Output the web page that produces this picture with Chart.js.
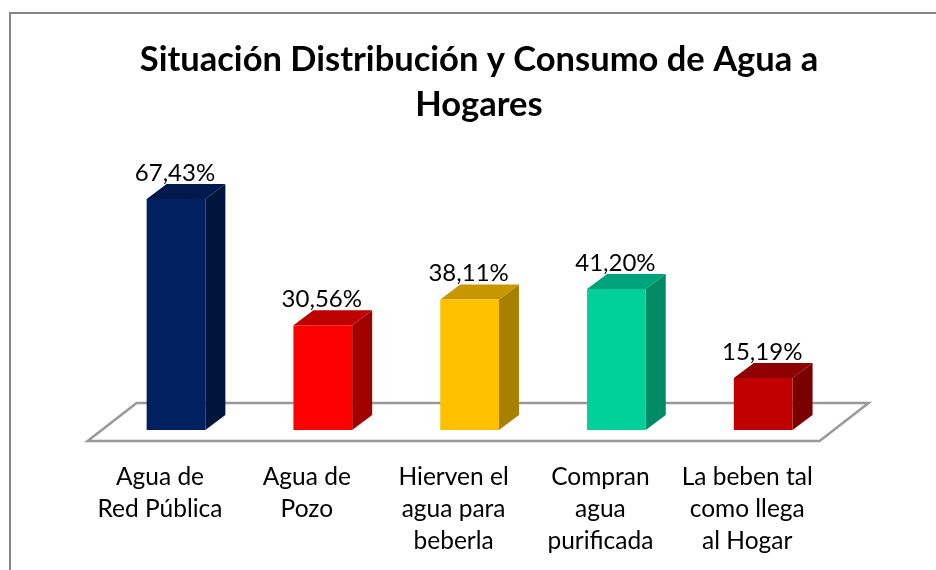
<!DOCTYPE html>
<html>
<head>
<meta charset="utf-8">
<script src="https://cdn.jsdelivr.net/npm/chart.js@4"></script>
<style>
    html, body { margin: 0; padding: 0; background: #fff; }
    canvas { display: block; }
</style>
</head>
<body>
<canvas id="aguaChart" width="936" height="570"></canvas>
<script>
const chartTitle = ['Situación Distribución y Consumo de Agua a', 'Hogares'];
const categories = [
    ['Agua de', 'Red Pública'],
    ['Agua de', 'Pozo'],
    ['Hierven el', 'agua para', 'beberla'],
    ['Compran', 'agua', 'purificada'],
    ['La beben tal', 'como llega', 'al Hogar']
];
const values = [67.43, 30.56, 38.11, 41.20, 15.19];

const frontColors = ['#002060', '#FF0000', '#FFC000', '#00D09A', '#C00000'];
const topColors = ['#001A4D', '#BF0000', '#C89600', '#00A37A', '#8F0000'];
const sideColors = ['#00143C', '#A00000', '#A88000', '#008A66', '#7A0000'];

const FONT = 'Lato, Carlito, Calibri, sans-serif';
const DEPTH_X = 20;
const DEPTH_Y = 15;

function polygon(ctx, points, color) {
    ctx.beginPath();
    points.forEach((p, i) => i ? ctx.lineTo(p[0], p[1]) : ctx.moveTo(p[0], p[1]));
    ctx.closePath();
    ctx.fillStyle = color;
    ctx.fill();
}

// Frame, floor and the side/top faces of the bars (Chart.js draws the front)
const bars3d = {
    id: 'bars3d',
    beforeDraw(chart) {
        const ctx = chart.ctx;
        ctx.save();
        ctx.strokeStyle = '#868686';
        ctx.lineWidth = 2;
        ctx.beginPath();
        ctx.moveTo(10, 575);
        ctx.lineTo(10, 13);
        ctx.lineTo(940, 13);
        ctx.stroke();
        ctx.restore();
    },
    beforeDatasetsDraw(chart) {
        const ctx = chart.ctx;
        const area = chart.chartArea;
        const base = chart.scales.y.getPixelForValue(0);

        ctx.save();
        ctx.strokeStyle = '#999999';
        ctx.lineWidth = 2.5;
        ctx.beginPath();
        ctx.moveTo(area.left - 15, base + 11);
        ctx.lineTo(area.right - 17, base + 11);
        ctx.lineTo(area.right + 32, base - 27);
        ctx.lineTo(area.left + 34, base - 27);
        ctx.closePath();
        ctx.stroke();

        chart.getDatasetMeta(0).data.forEach((bar, i) => {
            const half = bar.width / 2;
            const l = bar.x - half, r = bar.x + half;
            polygon(ctx, [[r, bar.y], [r + DEPTH_X, bar.y - DEPTH_Y], [r + DEPTH_X, base - DEPTH_Y], [r, base]], sideColors[i]);
            polygon(ctx, [[l, bar.y], [l + DEPTH_X, bar.y - DEPTH_Y], [r + DEPTH_X, bar.y - DEPTH_Y], [r, bar.y]], topColors[i]);
        });
        ctx.restore();
    },
    afterDatasetsDraw(chart) {
        const ctx = chart.ctx;
        ctx.save();
        ctx.font = '24px ' + FONT;
        ctx.fillStyle = '#000';
        ctx.textAlign = 'center';
        ctx.textBaseline = 'middle';
        chart.getDatasetMeta(0).data.forEach((bar, i) => {
            const text = values[i].toFixed(2).replace('.', ',') + '%';
            ctx.fillText(text, bar.x - 1, bar.y - 26);
        });
        ctx.restore();
    }
};

const ctx = document.getElementById('aguaChart').getContext('2d');
new Chart(ctx, {
    type: 'bar',
    data: {
        labels: categories,
        datasets: [{
            data: values,
            backgroundColor: frontColors,
            categoryPercentage: 1,
            barPercentage: 0.4
        }]
    },
    options: {
        responsive: false,
        animation: false,
        layout: { padding: { left: 22, right: 0, top: 0, bottom: 0 } },
        plugins: {
            legend: { display: false },
            tooltip: { enabled: false },
            title: {
                display: true,
                text: chartTitle,
                color: '#000',
                font: { family: FONT, size: 34.5, weight: 'bold', lineHeight: 1.32 },
                padding: { top: 37, bottom: 28 }
            }
        },
        scales: {
            x: {
                grid: { display: false },
                border: { display: false },
                ticks: {
                    color: '#000',
                    font: { family: FONT, size: 24.5, lineHeight: 1.306 },
                    maxRotation: 0,
                    autoSkip: false,
                    padding: 23,
                    labelOffset: -16
                },
                afterFit: scale => { scale.height = 140; }
            },
            y: {
                min: 0,
                max: 80,
                grid: { display: false },
                border: { display: false },
                ticks: { display: false },
                afterFit: scale => { scale.width = 80.6; }
            },
            yRight: {
                position: 'right',
                grid: { display: false },
                border: { display: false },
                ticks: { display: false },
                afterFit: scale => { scale.width = 99.4; }
            }
        }
    },
    plugins: [bars3d]
});
</script>
</body>
</html>
